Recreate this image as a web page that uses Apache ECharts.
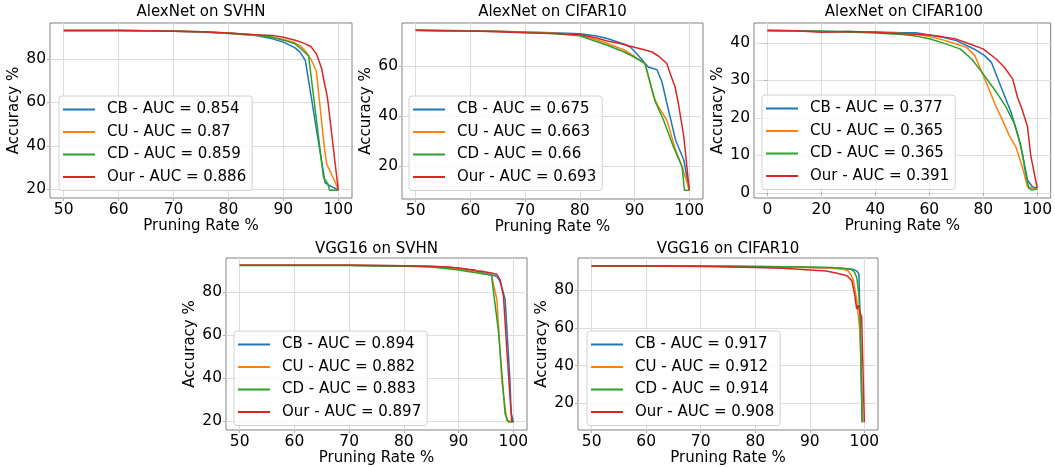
<!DOCTYPE html>
<html><head><meta charset="utf-8">
<script src="https://cdn.jsdelivr.net/npm/echarts@6/dist/echarts.min.js"></script>
<style>html,body{margin:0;padding:0;background:#fff}#c{width:1055px;height:467px}</style>
</head><body><div id="c"></div>
<script>
// ---------- data ----------
const methods = ['CB', 'CU', 'CD', 'Our'];
const titles = ['AlexNet on SVHN', 'AlexNet on CIFAR10', 'AlexNet on CIFAR100', 'VGG16 on SVHN', 'VGG16 on CIFAR10'];
const aucAlexSvhn = ['0.854', '0.87', '0.859', '0.886'];
const aucAlexC10 = ['0.675', '0.663', '0.66', '0.693'];
const aucAlexC100 = ['0.377', '0.365', '0.365', '0.391'];
const aucVggSvhn = ['0.894', '0.882', '0.883', '0.897'];
const aucVggC10 = ['0.917', '0.912', '0.914', '0.908'];

const xTicks50 = [50, 60, 70, 80, 90, 100];
const xTicks0 = [0, 20, 40, 60, 80, 100];
const yTicksA = [20, 40, 60, 80];
const yTicksB = [20, 40, 60];
const yTicksC = [0, 10, 20, 30, 40];

// AlexNet on SVHN  [pruning rate, accuracy]
const a1CB = [[50,93.2],[55,93.2],[60,93.1],[65,93.0],[70,92.8],[75,92.5],[80,91.8],[85,90.8],[88,89.3],[90,87.8],[92,85.4],[93,83.3],[94,79.4],[95,63.7],[96,48.0],[97,32.4],[97.6,23.0],[98.2,22.0],[99,21.0],[100,19.7]];
const a1CU = [[50,93.2],[55,93.2],[60,93.1],[65,93.0],[70,92.8],[75,92.6],[80,91.9],[85,91.0],[88,90.0],[90,89.0],[92,87.6],[93,86.2],[94,83.8],[95,80.0],[96,74.5],[97,50.5],[97.5,38.5],[97.9,31.5],[98.5,28.5],[99,25.7],[99.5,22.9],[100,19.7]];
const a1CD = [[50,93.2],[55,93.2],[60,93.1],[65,93.0],[70,92.9],[75,92.6],[80,92.0],[85,91.1],[88,90.0],[90,88.7],[92,87.2],[93,85.2],[94.6,81.4],[95,73.1],[96,52.4],[97,31.8],[97.3,25.6],[98.1,22.6],[98.4,19.6],[100,19.6]];
const a1Our = [[50,93.2],[55,93.2],[60,93.1],[65,93.0],[70,92.8],[75,92.6],[80,92.0],[85,91.2],[88,90.9],[90,90.0],[92,88.8],[93,88.0],[94,87.0],[95,85.8],[96,82.5],[96.7,77.6],[97,75.3],[97.5,68.5],[97.8,65.3],[98.1,60.8],[98.5,52.1],[99,41.3],[99.5,30.4],[100,19.7]];

// AlexNet on CIFAR10
const a2CB = [[50,74.3],[55,74.2],[60,74.1],[65,73.9],[70,73.6],[75,73.3],[80,72.9],[83,72.0],[85,71.0],[88,68.8],[89.2,67.6],[90.4,64.9],[92.5,59.6],[94.1,58.5],[95,53.6],[96.2,42.3],[97.5,30.3],[99,22.3],[100,10.3]];
const a2CU = [[50,74.3],[55,74.2],[60,74.1],[65,73.9],[70,73.5],[75,73.2],[80,72.3],[83,70.5],[85,69.0],[88,66.5],[90,63.8],[91.9,61.0],[93.5,47.6],[94.4,43.6],[95.9,38.3],[97.4,27.0],[98.7,19.6],[100,10.3]];
const a2CD = [[50,74.2],[55,74.1],[60,74.0],[65,73.8],[70,73.4],[75,73.0],[80,72.1],[83,69.8],[85,68.3],[88,65.7],[90,63.5],[91.9,61.0],[93.8,45.6],[95.3,38.3],[97.1,27.6],[98.7,19.6],[99.1,10.3],[100,10.3]];
const a2Our = [[50,74.3],[55,74.1],[60,74.0],[65,73.7],[70,73.3],[75,73.0],[80,72.6],[83,71.2],[85,70.0],[88,68.7],[89.2,67.9],[91.6,66.6],[93.2,65.6],[94.4,63.9],[95.9,61.0],[96.2,61.8],[96.5,57.0],[97.4,51.6],[98.0,45.0],[99.0,31.6],[100,10.3]];

// AlexNet on CIFAR100
const a3CB = [[0,43.3],[10,43.2],[20,43.1],[30,43.0],[40,42.9],[50,42.7],[55,42.7],[60,42.1],[65,41.5],[70,40.6],[75,38.9],[77.5,38.0],[80.5,36.6],[83,34.8],[85.4,30.4],[87.8,26.0],[90.3,21.5],[92.7,15.8],[94.5,10.5],[96.4,3.4],[98.2,1.6],[100,1.2]];
const a3CU = [[0,43.3],[10,43.2],[20,43.0],[30,42.9],[40,42.8],[50,42.5],[55,42.3],[60,41.7],[65,40.8],[70,39.7],[73.8,38.8],[76.9,36.6],[78.7,33.5],[81.8,28.2],[84.8,22.9],[87.2,19.3],[89.6,15.3],[92.1,12.2],[94.5,6.9],[96.4,1.6],[98.2,1.2],[100,1.0]];
const a3CD = [[0,43.3],[10,43.2],[20,43.1],[30,42.9],[40,42.6],[50,42.2],[55,41.8],[60,41.1],[65,40.0],[71.4,38.4],[75.7,35.7],[79.9,31.8],[84.8,26.9],[88.4,22.9],[91.5,18.5],[93.9,12.7],[95.7,5.2],[96.9,1.2],[98.2,0.7],[100,1.0]];
const a3Our = [[0,43.3],[10,43.2],[20,42.8],[30,43.0],[40,42.8],[50,42.4],[55,42.3],[60,42.1],[65,41.6],[70,41.0],[75,39.7],[79.9,38.4],[84.8,35.7],[87.8,33.5],[90.9,30.4],[92.7,25.5],[94.5,22.0],[96.4,17.6],[97.6,10.0],[100,1.2]];

// VGG16 on SVHN
const v1CB = [[50,92.6],[60,92.6],[70,92.6],[80,92.4],[85,92.1],[88,91.7],[90,91.2],[92,90.5],[93,90.0],[94,89.4],[95,88.8],[96,88.2],[97,87.4],[97.5,85.5],[98,81.5],[98.5,76.7],[99,55.6],[99.4,38.7],[99.6,24.0],[100,20.0]];
const v1CU = [[50,92.6],[60,92.6],[70,92.6],[80,92.3],[85,92.0],[88,91.4],[90,90.8],[92,90.0],[93,89.5],[94,89.0],[95,88.5],[96,88.0],[97,76.7],[97.5,55.6],[97.9,38.7],[98.8,20.4],[100,19.7]];
const v1CD = [[50,92.5],[60,92.5],[70,92.5],[80,92.2],[85,91.8],[88,91.0],[90,90.4],[92,89.6],[93,89.2],[94,88.8],[95,88.4],[96,88.1],[97.3,61.5],[98.5,23.5],[99.1,19.7],[100,19.7]];
const v1Our = [[50,92.6],[60,92.6],[70,92.6],[80,92.4],[85,92.2],[88,91.8],[90,91.3],[92,90.7],[93,90.4],[93.5,89.8],[94,89.9],[95,89.5],[96,89.0],[97,88.4],[97.3,88.1],[97.6,85.8],[98.2,78.2],[98.8,53.9],[99.4,31.1],[99.7,20.4],[100,19.8]];

// VGG16 on CIFAR10
const v2CB = [[50,92.9],[60,92.9],[70,92.8],[80,92.6],[85,92.4],[90,92.1],[94,91.8],[96,91.5],[97,91.3],[98,91.0],[98.6,90.3],[99.0,88.6],[99.2,66.0],[99.4,35.0],[99.6,10.0]];
const v2CU = [[50,92.9],[60,92.9],[70,92.8],[80,92.5],[85,92.3],[90,92.0],[94,91.6],[96,91.2],[97,90.3],[97.5,88.5],[98,85.1],[98.6,74.9],[99.2,57.7],[99.5,30.0],[99.7,10.0]];
const v2CD = [[50,92.8],[60,92.8],[70,92.8],[80,92.6],[85,92.5],[90,92.3],[94,92.0],[96,91.7],[97,91.4],[97.7,91.0],[98.2,89.5],[98.6,86.8],[99.0,78.0],[99.2,66.0],[99.4,40.0],[99.6,10.0]];
const v2Our = [[50,92.9],[60,92.8],[70,92.6],[80,92.0],[85,91.6],[88,91.2],[90,90.8],[93,90.2],[95,89.0],[96.8,87.7],[97.7,85.1],[98.2,78.0],[98.6,70.0],[98.9,72.0],[99.2,68.0],[99.5,66.0],[99.8,65.0],[100,10.0]];

// ---------- chart ----------
const FONT = 'DejaVu Sans';
const colors = ['#1f77b4', '#ff7f0e', '#2ca02c', '#d62728'];
const panels = [
  { data: [a1CB, a1CU, a1CD, a1Our], auc: aucAlexSvhn, xt: xTicks50, yt: yTicksA, x: [47.5, 102.5], y: [16, 96.6], rect: [50, 23, 302, 175], leg: [59, 96], tt: 5 },
  { data: [a2CB, a2CU, a2CD, a2Our], auc: aucAlexC10, xt: xTicks50, yt: yTicksB, x: [47.5, 102.5], y: [6.8, 77.2], rect: [402, 23, 301, 176], leg: [409, 96], tt: 5 },
  { data: [a3CB, a3CU, a3CD, a3Our], auc: aucAlexC100, xt: xTicks0, yt: yTicksC, x: [-5, 105], y: [-1.4, 45.3], rect: [754, 23, 300, 175], leg: [762, 95], tt: 5 },
  { data: [v1CB, v1CU, v1CD, v1Our], auc: aucVggSvhn, xt: xTicks50, yt: yTicksA, x: [47.5, 102.5], y: [16, 96], rect: [226, 258, 301, 175], leg: [234, 331], tt: 242 },
  { data: [v2CB, v2CU, v2CD, v2Our], auc: aucVggC10, xt: xTicks50, yt: yTicksA, x: [47.5, 102.5], y: [5.9, 97.1], rect: [578, 258, 300, 175], leg: [587, 331], tt: 242 }
];

const txt = { fontFamily: FONT, fontSize: 15, color: '#000' };
const tickTxt = { fontFamily: FONT, fontSize: 15.5, color: '#000' };
const option = { animation: false, backgroundColor: '#fff', title: [], grid: [], xAxis: [], yAxis: [], legend: [], series: [] };

panels.forEach((p, i) => {
  const [l, t, w, h] = p.rect;
  const labels = methods.map((m, j) => m + ' - AUC = ' + p.auc[j]);
  option.title.push({ text: titles[i], left: l + w / 2, top: p.tt, textAlign: 'center', padding: 0,
    textStyle: Object.assign({ fontWeight: 'normal' }, txt) });
  option.grid.push({ left: l, top: t, width: w, height: h, show: true, borderColor: '#808080', borderWidth: 1, backgroundColor: '#fff' });
  const common = {
    type: 'value', gridIndex: i, nameLocation: 'middle', nameTextStyle: txt,
    axisLine: { show: false },
    splitLine: { show: true, lineStyle: { color: '#dcdcdc', width: 1 } }
  };
  option.xAxis.push(Object.assign({}, common, {
    min: p.x[0], max: p.x[1], name: 'Pruning Rate %', nameGap: 21,
    axisTick: { show: true, length: 3, lineStyle: { color: '#b0b0b0' }, customValues: p.xt },
    axisLabel: Object.assign({ customValues: p.xt, margin: 4 }, tickTxt)
  }));
  option.yAxis.push(Object.assign({}, common, {
    min: p.y[0], max: p.y[1], name: 'Accuracy %', nameGap: 28,
    axisTick: { show: true, length: 3, lineStyle: { color: '#b0b0b0' }, customValues: p.yt },
    axisLabel: Object.assign({ customValues: p.yt, margin: 4 }, tickTxt)
  }));
  p.data.forEach((d, j) => {
    option.series.push({ type: 'line', name: labels[j], xAxisIndex: i, yAxisIndex: i, data: d,
      symbol: 'none', z: 2 + j, lineStyle: { width: 1.5, color: colors[j] }, itemStyle: { color: colors[j] } });
  });
  option.legend.push({ orient: 'vertical', left: p.leg[0], top: p.leg[1], data: labels, selectedMode: false,
    icon: 'rect', itemWidth: 32, itemHeight: 2, itemGap: 7.5, padding: [6, 6, 6, 4],
    backgroundColor: 'rgba(255,255,255,0.8)', borderColor: '#d0d0d0', borderWidth: 1, borderRadius: 3,
    textStyle: Object.assign({ padding: [0, 0, 0, 7] }, txt) });
});

const chart = echarts.init(document.getElementById('c'), null, { renderer: 'canvas' });
chart.setOption(option);
</script>
</body></html>
